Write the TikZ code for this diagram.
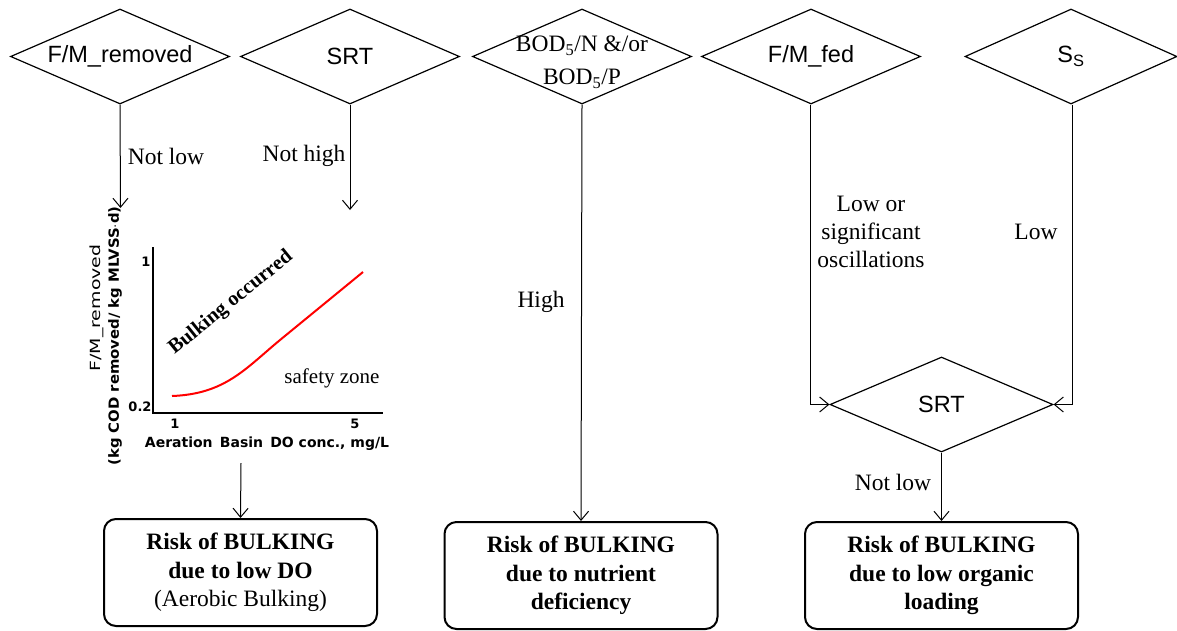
\documentclass[tikz,border=0pt]{standalone}
\usepackage{fontspec}
\usepackage{graphicx}
\setmainfont{Liberation Serif}
\newfontfamily\diafont{Liberation Sans}
\newfontfamily\gfont{DejaVu Sans}
\usetikzlibrary{shapes.geometric,arrows.meta}
\newcommand{\zbox}[1]{\vbox to 0pt{\vss\hbox to 0pt{\hss#1\hss}\vss}}
\newcommand{\zboxdown}[2]{\vbox to 0pt{\vss\hbox to 0pt{\hss#2\hss}\vss\kern-#1}}
\tikzset{
  dia/.style={diamond, draw, line width=1.2pt, inner sep=0pt, minimum width=219pt, minimum height=95pt,
    font=\diafont\fontsize{23.5}{28}\selectfont},
  outbox/.style={draw, rounded corners=12pt, line width=2pt, minimum width=273pt, minimum height=107pt,
    align=center, inner sep=0pt, font=\bfseries\fontsize{23.5}{28.5}\selectfont},
  conn/.style={line width=1pt, -{Straight Barb[length=9pt,width=15pt]}},
  lbl/.style={font=\fontsize{23.5}{28}\selectfont, inner sep=0pt, align=center},
  gtxt/.style={font=\gfont\bfseries\fontsize{14}{16}\selectfont, inner sep=0pt},
  tick/.style={font=\gfont\bfseries\fontsize{13}{15}\selectfont, inner sep=0pt},
  axis/.style={line width=2.2pt}
}
\begin{document}
\begin{tikzpicture}[x=1pt,y=-1pt]
\useasboundingbox (0,0) rectangle (1177,630);
% decision diamonds
\node[dia] (d1) at (120,56.5) {\zbox{F/M\_removed}};
\node[dia] (d2) at (350,56.5) {\zbox{SRT}};
\node[dia, font=\fontsize{23.5}{32}\selectfont] (d3) at (582,56.5) {\zboxdown{10pt}{\begin{tabular}{@{}c@{}}BOD\textsubscript{5}/N \&/or\\[1pt] BOD\textsubscript{5}/P\end{tabular}}};
\node[dia] (d4) at (811,56.5) {\zbox{F/M\_fed}};
\node[dia, minimum width=212pt] (d5) at (1071,56.5) {\zbox{S\textsubscript{S}}};
\node[dia, minimum width=223pt] (s2) at (941.5,404.5) {\zbox{SRT}};
% outcome boxes
\node[outbox] (b1) at (240.5,572.5) {Risk of BULKING\\due to low DO\\\mdseries (Aerobic Bulking)};
\node[outbox] (b2) at (581,575.5) {Risk of BULKING\\due to nutrient\\deficiency};
\node[outbox] (b3) at (941.5,575.5) {Risk of BULKING\\due to low organic\\loading};
% free ends
\coordinate (e1) at (120.5,208);
\coordinate (e2) at (350,210);
\coordinate (g1) at (241,463);
\coordinate (k4) at (810,404.5);
\coordinate (k5) at (1072,404.5);
% connectors
\draw[conn] (d1.south) -- (e1);
\draw[conn] (d2.south) -- (e2);
\draw[conn] (d3.south) -- (b2.north);
\draw[conn] (d4.south -| k4) -- (k4) -- (s2.west);
\draw[conn] (d5.south -| k5) -- (k5) -- (s2.east);
\draw[conn] (s2.south) -- (b3.north);
\draw[conn] (g1) -- (b1.north);
% connector labels
\node[lbl] (l1) at (166,156) {Not low};
\node[lbl] (l2) at (304,156) {Not high};
\node[lbl] (l3) at (541,302) {High};
\node[lbl] (l4) at (871,232) {Low or\\significant\\oscillations};
\node[lbl] (l5) at (1036,232) {Low};
\node[lbl] (l6) at (893,482) {Not low};
% graph
\draw[axis] (153,247) -- (153,413) -- (383,413);
\draw[red, line width=2pt] (172,396) .. controls (225,394) and (245,369) .. (280,340) -- (363,272);
\node[tick] (t1) at (175,424) {1};
\node[tick] (t5) at (355,424) {5};
\node[tick] (ty1) at (146,262) {1};
\node[tick] (ty2) at (140,407) {0.2};
\node[gtxt] (xl) at (267,444) {Aeration\, Basin\, DO conc., mg/L};
\node[gtxt, font=\gfont\fontsize{14}{16}\selectfont, rotate=90] (yl1) at (97,308) {\scalebox{1.35}[1]{F/M\_removed}};
\node[gtxt, rotate=90] (yl2) at (115,336) {\scalebox{1.06}[1]{(kg COD removed/ kg MLVSS$\cdot$d)}};
\node[lbl, font=\bfseries\fontsize{20.5}{24}\selectfont, rotate=39] (bo) at (231,303) {Bulking occurred};
\node[lbl, font=\fontsize{21}{24}\selectfont] (sz) at (332,378) {safety zone};
\end{tikzpicture}
\end{document}
